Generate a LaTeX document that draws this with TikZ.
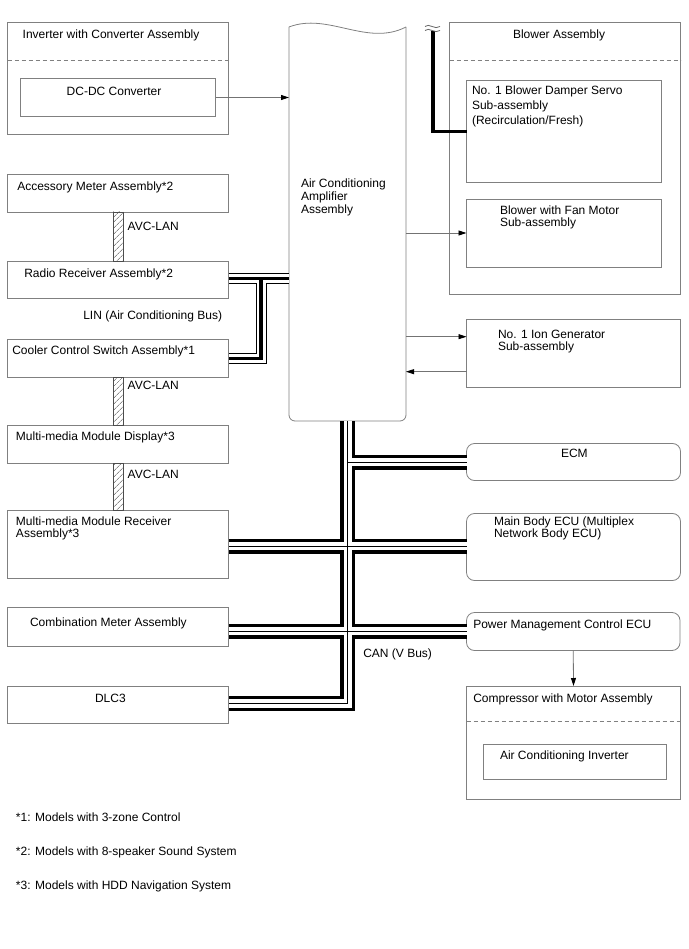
\documentclass[tikz,border=0pt]{standalone}
\usepackage{fontspec}
\setmainfont{Liberation Sans}
\usetikzlibrary{arrows.meta,patterns.meta}
\begin{document}
\begin{tikzpicture}[x=1pt,y=-1pt,
  box/.style={draw=black!50, line width=0.8pt, inner sep=0pt, outer sep=0pt},
  rbox/.style={box, rounded corners=8pt},
  ghost/.style={inner sep=0pt, outer sep=0pt},
  lbl/.style={inner sep=0pt, outer sep=0pt, anchor=base west, font=\fontsize{12}{14}\selectfont},
  dashline/.style={draw=black!50, line width=0.8pt, dash pattern=on 4pt off 3pt},
  outline/.style={draw=black!50, line width=0.8pt},
  arr/.style={draw=black!55, line width=0.8pt, -{Triangle[length=8pt,width=5pt,color=black]}},
  bus/.style 2 args={line width=#1, draw=#2, line join=miter, line cap=butt},
  hatchbar/.style={draw=black!70, line width=0.6pt, pattern={Lines[angle=45,distance=4pt,line width=0.5pt]}, pattern color=black!70},
  servo/.style={draw=black, line width=3.5pt, line join=miter},
]
\useasboundingbox (0,0) rectangle (688,949);
\newcommand\bx[6][box]{\node[#1, anchor=north west, minimum width={#5pt-#3pt}, minimum height={#6pt-#4pt}] (#2) at (#3,#4) {};}
\newcommand\tx[4]{\node[lbl] (#1) at (#2,#3) {#4};}

% ---------- left column ----------
\bx{inv}{7.5}{22.5}{228.5}{134}
\draw[dashline] (7.5,60.7) -- (228.5,60.7);
\bx{dcdc}{20.5}{78.5}{215.5}{116.5}
\bx{acc}{7.5}{174}{228.5}{212}
\bx{radio}{7.5}{261}{228.5}{298.5}
\bx{cooler}{7.5}{339}{228.5}{377}
\bx{mmd}{7.5}{425}{228.5}{463}
\bx{mmr}{7.5}{510}{228.5}{578}
\bx{comb}{7.5}{607}{228.5}{646}
\bx{dlc}{7.5}{686}{228.5}{723}

% ---------- amplifier ----------
\node[ghost, anchor=north west, minimum width=117pt, minimum height=394pt] (amp) at (289,27) {};
\draw[outline, rounded corners=6pt] (amp.north west) -- (amp.south west) -- (amp.south east) -- (amp.north east);
\draw[outline] (amp.north west) .. controls (328,12) and (367,47) .. (amp.north east);

% ---------- right column ----------
\bx{blower}{449.5}{22.5}{680.5}{294}
\draw[dashline] (449.5,60.7) -- (680.5,60.7);
\bx{damper}{466.5}{80}{661}{182.5}
\bx{fan}{466.5}{199}{661}{267}
\bx{ion}{466.5}{319.5}{680.5}{387.5}
\bx[rbox]{ecm}{466.5}{443.5}{680.5}{480.5}
\bx[rbox]{mbecu}{466.5}{513.5}{680.5}{580.5}
\bx[rbox]{pmecu}{466.5}{612.5}{680}{650.5}
\bx{comp}{466.5}{686}{680.5}{799}
\draw[dashline] (466.5,721) -- (680.5,721);
\bx{acinv}{483.5}{744}{666.5}{779.5}

% ---------- texts ----------
\tx{tinv}{22.7}{38.5}{Inverter with Converter Assembly}
\tx{tdcdc}{66.7}{96}{DC-DC Converter}
\tx{tacc}{17.3}{191}{Accessory Meter Assembly*2}
\tx{tavc1}{127.7}{231}{AVC-LAN}
\tx{tradio}{24.3}{277}{Radio Receiver Assembly*2}
\tx{tlin}{83.3}{319.5}{LIN (Air Conditioning Bus)}
\tx{tcool}{12.3}{354.5}{Cooler Control Switch Assembly*1}
\tx{tavc2}{127.7}{389.5}{AVC-LAN}
\tx{tmmd}{16}{440.5}{Multi-media Module Display*3}
\tx{tavc3}{127.7}{478.5}{AVC-LAN}
\tx{tmmra}{16}{525}{Multi-media Module Receiver}
\tx{tmmrb}{16}{537}{Assembly*3}
\tx{tcomb}{30}{626.5}{Combination Meter Assembly}
\tx{tdlc}{95}{702.5}{DLC3}
\tx{tampa}{301}{187.5}{Air Conditioning}
\tx{tampb}{301}{200.5}{Amplifier}
\tx{tampc}{301}{213.5}{Assembly}
\tx{tblow}{513}{38.5}{Blower Assembly}
\tx{tdama}{472}{95}{No. 1 Blower Damper Servo}
\tx{tdamb}{472}{110}{Sub-assembly}
\tx{tdamc}{472}{124.5}{(Recirculation/Fresh)}
\tx{tfana}{500}{214.5}{Blower with Fan Motor}
\tx{tfanb}{500}{226.8}{Sub-assembly}
\tx{tiona}{498}{338.5}{No. 1 Ion Generator}
\tx{tionb}{498}{350.5}{Sub-assembly}
\tx{tecm}{561}{457.5}{ECM}
\tx{tmba}{494}{525}{Main Body ECU (Multiplex}
\tx{tmbb}{494}{537}{Network Body ECU)}
\tx{tpm}{473.3}{628.5}{Power Management Control ECU}
\tx{tcan}{363.3}{657.5}{CAN (V Bus)}
\tx{tcomp}{473.3}{702.5}{Compressor with Motor Assembly}
\tx{tacinv}{500}{759}{Air Conditioning Inverter}
\tx{tn1}{16}{821}{*1: Models with 3-zone Control}
\tx{tn2}{16}{855}{*2: Models with 8-speaker Sound System}
\tx{tn3}{16}{889}{*3: Models with HDD Navigation System}

% ---------- arrows ----------
\coordinate (ionIn) at ([yshift=16.8pt]ion.west);
\coordinate (ionOut) at ([yshift=-18.2pt]ion.west);
\draw[arr] (dcdc.east) -- (dcdc.east -| amp.west);
\draw[arr] (amp.east |- fan.west) -- (fan.west);
\draw[arr] (amp.east |- ionIn) -- (ionIn);
\draw[arr] (ionOut) -- (amp.east |- ionOut);
\draw[arr] (pmecu.south) -- (comp.north);

% ---------- AVC-LAN bars ----------
\draw[hatchbar] ([xshift=-5pt]acc.south) rectangle ([xshift=5pt]radio.north);
\draw[hatchbar] ([xshift=-5pt]cooler.south) rectangle ([xshift=5pt]mmd.north);
\draw[hatchbar] ([xshift=-5pt]mmd.south) rectangle ([xshift=5pt]mmr.north);

% ---------- servo line ----------
\coordinate (sv0) at (433,31);
\coordinate (sv1) at (433,131.7);
\draw[servo] (sv0) -- (sv1) -- (sv1 -| damper.west);
\draw[draw=black!60, line width=0.8pt] (425,26.5) .. controls (429,22.5) and (435,30.5) .. (440,26.5);
\draw[draw=black!60, line width=0.8pt] (425,30.5) .. controls (429,26.5) and (435,34.5) .. (440,30.5);

% ---------- LIN bus ----------
\coordinate (lH) at (261,278.8);
\coordinate (lB) at (261,358.8);
\foreach \w/\c in {11/black,9/white,3.3/black}{
  \draw[bus={\w pt}{\c}] (lH -| radio.east) -- (lH -| amp.west);
  \draw[bus={\w pt}{\c}] (lH) -- (lB) -- (lB -| cooler.east);
}

% ---------- CAN bus ----------
\coordinate (cA) at (347.7,421);
\coordinate (cB) at (347.7,703.5);
\coordinate (jE) at (347.7,462);
\coordinate (jM) at (347.7,546);
\coordinate (jC) at (347.7,631);
\foreach \w/\c in {15/black,8.4/white,1/black}{
  \draw[bus={\w pt}{\c}] (cA) -- (cB) -- (cB -| dlc.east);
  \draw[bus={\w pt}{\c}] (jE) -- (jE -| ecm.west);
  \draw[bus={\w pt}{\c}] (jM -| mmr.east) -- (jM -| mbecu.west);
  \draw[bus={\w pt}{\c}] (jC -| comb.east) -- (jC -| pmecu.west);
}
\end{tikzpicture}
\end{document}
